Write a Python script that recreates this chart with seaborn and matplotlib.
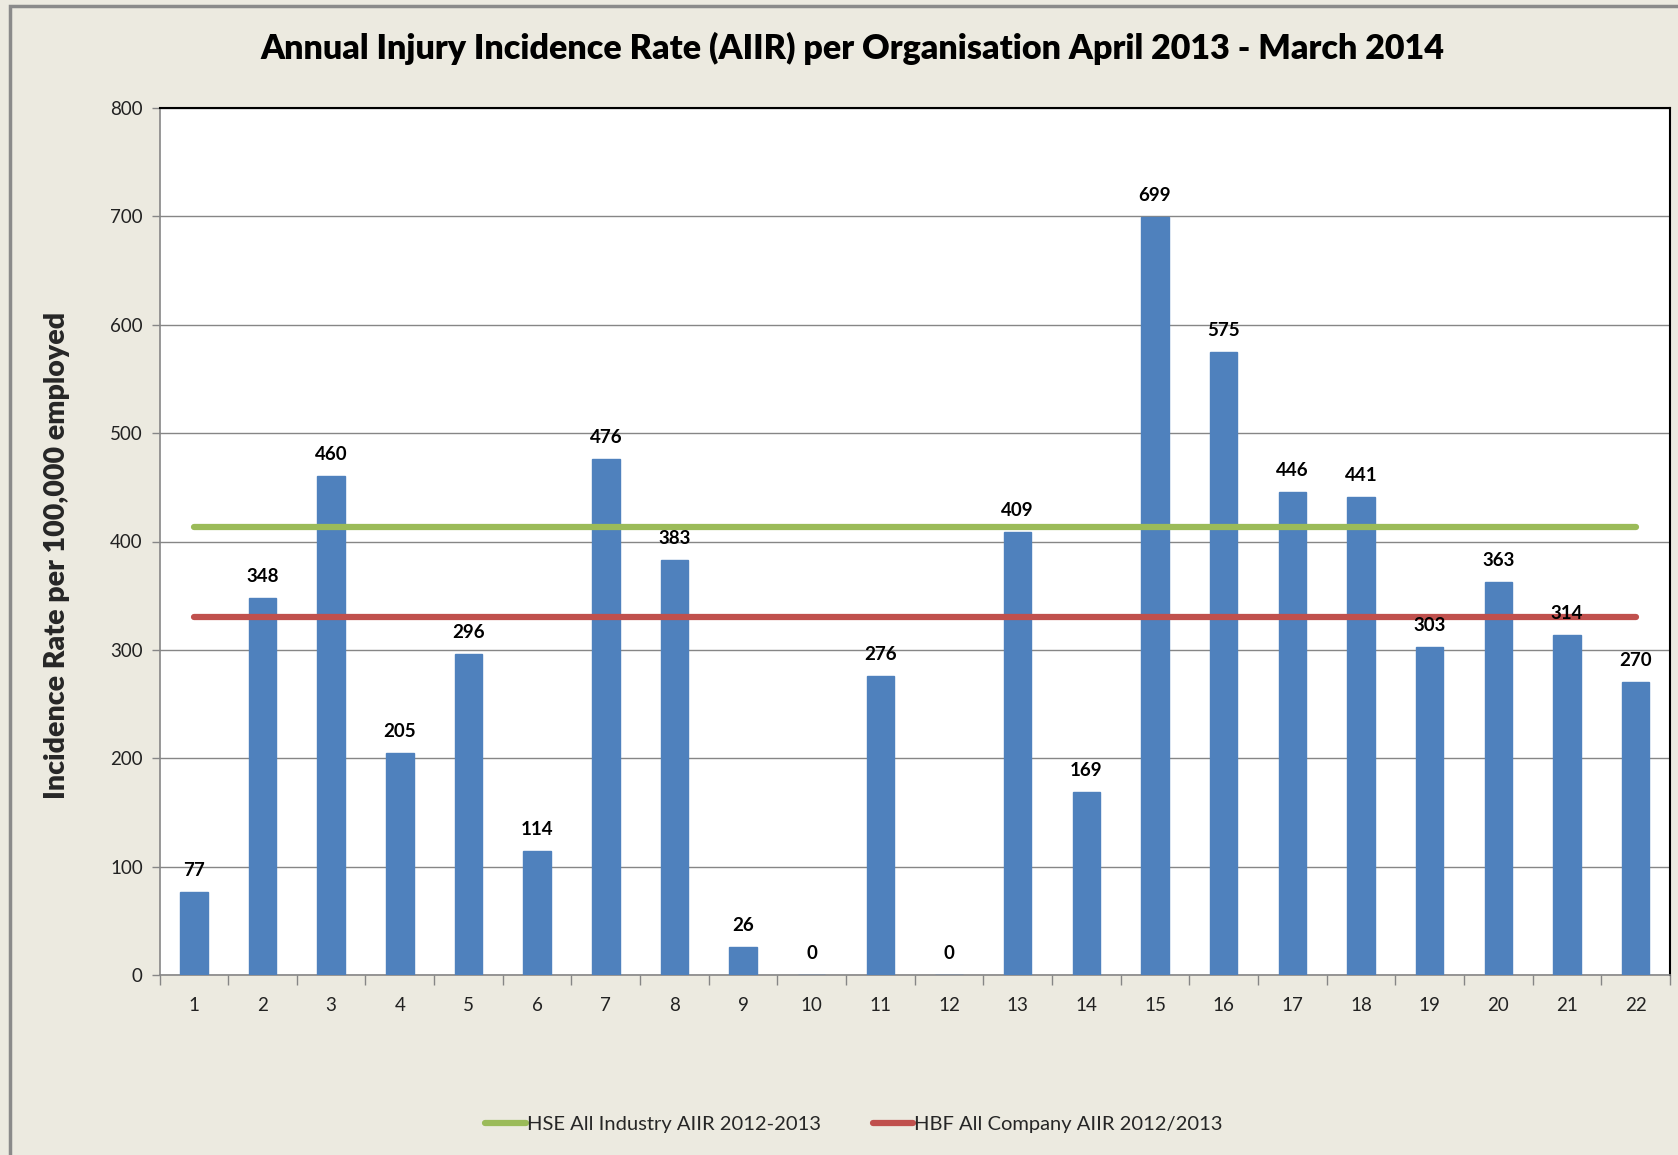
import matplotlib
matplotlib.use("Agg")
import matplotlib.pyplot as plt
import seaborn as sns
import pandas as pd
from matplotlib.lines import Line2D
from matplotlib.patches import Rectangle

organisations = [str(i) for i in range(1, 23)]
aiir_values = [77, 348, 460, 205, 296, 114, 476, 383, 26, 0, 276, 0,
               409, 169, 699, 575, 446, 441, 303, 363, 314, 270]
hse_label = "HSE All Industry AIIR 2012-2013"
hbf_label = "HBF All Company AIIR 2012/2013"
hse_rate = 413
hbf_rate = 330
y_ticks = [0, 100, 200, 300, 400, 500, 600, 700, 800]

bg = "#ECEAE0"
bar_color = "#4F81BD"
green = "#9BBB59"
red = "#C0504D"

sns.set_theme(style="white")
plt.rcParams["font.family"] = ["Lato", "DejaVu Sans"]

fig = plt.figure(figsize=(16.78, 11.55), dpi=100, facecolor=bg)
ax = fig.add_axes([159.5 / 1678, 1 - 975 / 1155, (1670 - 159.5) / 1678, (975 - 108) / 1155])
ax.set_facecolor("white")

df = pd.DataFrame({"org": organisations, "rate": aiir_values})
sns.barplot(data=df, x="org", y="rate", color=bar_color, width=0.40,
            saturation=1, ax=ax, zorder=3, edgecolor=bar_color)

pos = list(range(len(organisations)))
df_lines = pd.DataFrame({"pos": pos + pos,
                         "rate": [hse_rate] * len(pos) + [hbf_rate] * len(pos),
                         "series": [hse_label] * len(pos) + [hbf_label] * len(pos)})
sns.lineplot(data=df_lines, x="pos", y="rate", hue="series",
             palette={hse_label: green, hbf_label: red}, linewidth=4.5,
             ax=ax, legend=False, zorder=4)

for p, v in zip(pos, aiir_values):
    ax.text(p, v + 12, str(v), ha="center", va="bottom", fontsize=13.5,
            fontweight="bold", color="black", zorder=5)

ax.set_xlim(-0.5, len(organisations) - 0.5)
ax.set_ylim(0, 800)
ax.set_yticks(y_ticks)
ax.set_yticklabels([str(t) for t in y_ticks], fontsize=13.5, color="#222222")
ax.set_xticks(pos)
ax.set_xticklabels(organisations, fontsize=13.5, color="#222222")
ax.tick_params(axis="x", length=0, pad=16)
ax.tick_params(axis="y", length=6, width=1, color="#868686", pad=6, direction="out", left=True)
ax.set_xticks([p - 0.5 for p in pos] + [len(pos) - 0.5], minor=True)
ax.tick_params(axis="x", which="minor", length=7, width=1, color="#868686", bottom=True)

ax.yaxis.grid(True, color="#868686", linewidth=1)
ax.xaxis.grid(False)
ax.set_axisbelow(True)

for s in ["left", "bottom"]:
    ax.spines[s].set_color("#868686")
    ax.spines[s].set_linewidth(1.2)
for s in ["top", "right"]:
    ax.spines[s].set_color("black")
    ax.spines[s].set_linewidth(1.5)

ax.set_xlabel("")
ax.set_ylabel("Incidence Rate per 100,000 employed", fontsize=20.5, fontweight="heavy")
ax.yaxis.set_label_coords((57 - 159.5) / (1670 - 159.5), 0.484)
ax.yaxis.label.set_va("center")

fig.text(852 / 1678, 1 - 48 / 1155, "Annual Injury Incidence Rate (AIIR) per Organisation April 2013 - March 2014",
         ha="center", va="center", fontsize=24.5, fontweight="heavy", color="black")

handles = [Line2D([], [], color=green, linewidth=4.5, solid_capstyle="round"),
           Line2D([], [], color=red, linewidth=4.5, solid_capstyle="round")]
fig.legend(handles, [hse_label, hbf_label], loc="center", bbox_to_anchor=(854 / 1678, 1 - 1124 / 1155),
           ncol=2, frameon=False, fontsize=14.5, handlelength=2.0, handletextpad=0.05,
           columnspacing=2.6)

fig.add_artist(Rectangle((10 / 1678, -0.01), 1.0, 1 - 6 / 1155 + 0.01, transform=fig.transFigure,
                         fill=False, edgecolor="#8A8A8A", linewidth=2.5))

fig.savefig("out.png", dpi=100, facecolor=bg)
